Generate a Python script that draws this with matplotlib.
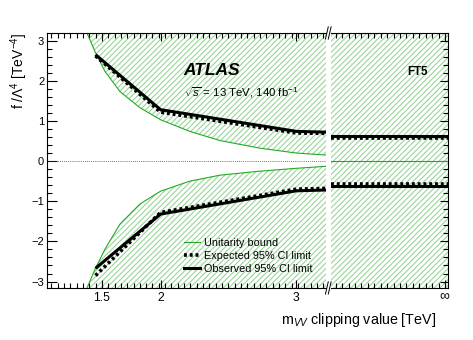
import numpy as np
import matplotlib
matplotlib.use("Agg")
import matplotlib.pyplot as plt
from matplotlib.lines import Line2D
from matplotlib.ticker import FixedLocator, NullFormatter

plt.rcParams['font.family'] = ['Liberation Sans', 'DejaVu Sans']
plt.rcParams['mathtext.fontset'] = 'custom'
plt.rcParams['mathtext.rm'] = 'Liberation Sans'
plt.rcParams['mathtext.it'] = 'Liberation Sans:italic'
plt.rcParams['mathtext.bf'] = 'Liberation Sans:bold'
plt.rcParams['hatch.linewidth'] = 0.8

# clipping values (TeV) and limits on f/Lambda^4
clip_vals = [1.44, 2.0, 3.0, 3.2]
obs_up = [2.65, 1.28, 0.74, 0.72]
exp_up = [2.62, 1.22, 0.70, 0.69]
obs_dn = [-2.67, -1.32, -0.74, -0.72]
exp_dn = [-2.85, -1.28, -0.70, -0.68]

# no clipping (infinity)
obs_inf = [0.62, -0.62]
exp_inf = [0.58, -0.57]
bound_inf = [0.0, 0.0]

# unitarity bound
m_bound = [1.36, 1.436, 1.527, 1.66, 1.83, 2.0, 2.23, 2.46, 2.75, 3.0, 3.2]
bound_up = [3.19, 2.72, 2.23, 1.73, 1.33, 1.03, 0.74, 0.51, 0.32, 0.20, 0.15]
bound_dn = [-3.16, -2.69, -2.19, -1.57, -1.07, -0.75, -0.50, -0.35, -0.25, -0.18, -0.13]

xticks = [1.5, 2, 3]
xticklabels = ['1.5', '2', '3']

k = 1.42
fwd = lambda m: np.sign(m) * np.abs(m) ** k
inv = lambda u: np.sign(u) * np.abs(u) ** (1.0 / k)

ylo, yhi = -3.16, 3.19
hcol = '#99d699'
gcol = '#22aa22'
hatch = '//////'

fig = plt.figure(figsize=(4.73, 3.40), dpi=100)
ax = fig.add_axes([0.0994, 0.153, 0.590, 0.750])
ax2 = fig.add_axes([0.6998, 0.153, 0.2474, 0.750])

# left panel
ax.set_xscale('function', functions=(fwd, inv))
ax.set_xlim(0.953, 3.2)
ax.set_ylim(ylo, yhi)
ax.fill_between(m_bound, bound_up, yhi + 1, facecolor='none', edgecolor=hcol, hatch=hatch, lw=0)
ax.fill_between(m_bound, bound_dn, ylo - 1, facecolor='none', edgecolor=hcol, hatch=hatch, lw=0)
ax.plot(m_bound, bound_up, color=gcol, lw=0.8)
ax.plot(m_bound, bound_dn, color=gcol, lw=0.8)
ax.axhline(0, color='#444444', lw=0.6, ls=(0, (1, 1.5)))
ax.plot(clip_vals, obs_up, color='black', lw=2.2, solid_capstyle='butt')
ax.plot(clip_vals, obs_dn, color='black', lw=2.2, solid_capstyle='butt')
ax.plot(clip_vals, exp_up, color='black', lw=2.6, ls=(0, (0.8, 0.8)))
ax.plot(clip_vals, exp_dn, color='black', lw=2.6, ls=(0, (0.8, 0.8)))

ax.spines['right'].set_visible(False)
ax.set_xticks(xticks)
ax.set_xticklabels(xticklabels)
u_minor = np.arange(1.0, 5.25, 0.097)
ax.xaxis.set_minor_locator(FixedLocator(inv(u_minor)))
ax.xaxis.set_minor_formatter(NullFormatter())
ax.set_yticks([-3, -2, -1, 0, 1, 2, 3])
ax.set_yticklabels(['\u22123', '\u22122', '\u22121', '0', '1', '2', '3'])
ax.yaxis.set_minor_locator(FixedLocator(np.arange(-3.2, 3.21, 0.2)))
ax.tick_params(axis='both', which='both', direction='in', top=True, labelsize=8, width=0.8)
ax.tick_params(axis='x', which='major', length=6, pad=3, labelsize=8.8)
ax.tick_params(axis='y', which='major', length=7, pad=2)
ax.tick_params(which='minor', length=3.5)
ax.set_ylabel('f /\u039b$^4$ [TeV$^{-4}$]', loc='top', fontsize=10)
ax.yaxis.set_label_coords(-0.06, 1.0)

# right panel
ax2.set_xlim(0, 1)
ax2.set_ylim(ylo, yhi)
ax2.axhspan(bound_inf[0], yhi + 1, facecolor='none', edgecolor=hcol, hatch=hatch, lw=0)
ax2.axhspan(ylo - 1, bound_inf[1], facecolor='none', edgecolor=hcol, hatch=hatch, lw=0)
ax2.axhline(bound_inf[0], color=gcol, lw=0.8)
for v in obs_inf:
    ax2.axhline(v, color='black', lw=2.2)
for v in exp_inf:
    ax2.axhline(v, color='black', lw=2.6, ls=(0, (0.8, 0.8)))
ax2.spines['left'].set_visible(False)
ax2.set_xticks([0.97])
ax2.set_xticklabels(['\u221e'])
ax2.xaxis.set_minor_locator(FixedLocator(np.arange(0.04, 1.0, 0.055)))
ax2.set_yticks([-3, -2, -1, 0, 1, 2, 3])
ax2.yaxis.set_minor_locator(FixedLocator(np.arange(-3.2, 3.21, 0.2)))
ax2.tick_params(axis='both', which='both', direction='in', top=True, right=True,
                left=False, labelleft=False, labelsize=10, width=0.8)
ax2.tick_params(which='major', length=6, pad=1)
ax2.tick_params(which='minor', length=3.5)
ax2.set_xlabel('m$_{VV}$ clipping value [TeV]', fontsize=10.3, ha='right')
ax2.xaxis.set_label_coords(0.9, -0.09)

# axis break marks
for yb in (0.153, 0.903):
    for dx in (0.0, 0.006):
        fig.add_artist(Line2D([0.688 + dx, 0.694 + dx], [yb - 0.018, yb + 0.018],
                              color='black', lw=0.7))

# labels
ax.text(0.49, 0.835, 'ATLAS', transform=ax.transAxes, fontsize=12.5,
        fontweight='bold', fontstyle='italic')
ax.text(0.49, 0.75, '$\\sqrt{s}$ = 13 TeV, 140 fb$^{-1}$', transform=ax.transAxes,
        fontsize=8.2)
ax2.text(0.65, 0.835, 'FT5', transform=ax2.transAxes, fontsize=8.3, fontweight='bold')

handles = [Line2D([], [], color=gcol, lw=0.8),
           Line2D([], [], color='black', lw=2.6, ls=(0, (0.8, 0.8))),
           Line2D([], [], color='black', lw=2.2)]
labels = ['Unitarity bound', 'Expected 95% CI limit', 'Observed 95% CI limit']
ax.legend(handles, labels, loc='upper left', bbox_to_anchor=(0.49, 0.195),
          frameon=False, fontsize=7.8, handlelength=1.5, handletextpad=0.4,
          labelspacing=0.25, borderpad=0, borderaxespad=0)

fig.savefig('out.png', dpi=100)
